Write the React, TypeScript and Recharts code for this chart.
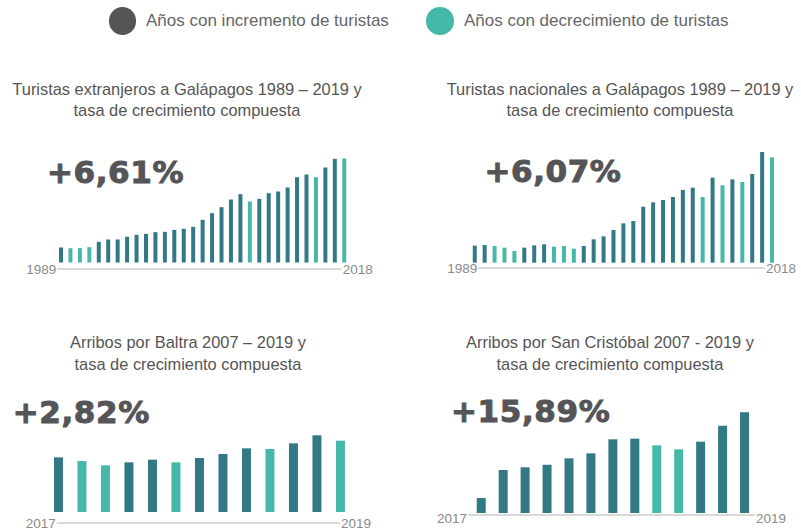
import { Bar, BarChart, Cell, Label, XAxis, YAxis } from "recharts";

// categorias
const yearsLong = [
  "1989", "1990", "1991", "1992", "1993", "1994", "1995", "1996", "1997", "1998",
  "1999", "2000", "2001", "2002", "2003", "2004", "2005", "2006", "2007", "2008",
  "2009", "2010", "2011", "2012", "2013", "2014", "2015", "2016", "2017", "2018", "2019",
];
const yearsShort = [
  "2007", "2008", "2009", "2010", "2011", "2012", "2013", "2014", "2015", "2016", "2017", "2018", "2019",
];

// turistas extranjeros (miles)
const foreignTourists = [
  22.5, 21.5, 21.5, 23, 31, 34.5, 34.5, 38.5, 41.5, 43, 45.5, 46, 49, 50.5, 53.5, 64,
  74, 83, 94.5, 102.5, 91.5, 95.5, 104, 106.5, 112.5, 128, 132, 128, 142.5, 155.5, 156,
];
const foreignTrend = [
  "up", "down", "down", "down", "up", "up", "up", "up", "up", "up", "up", "up", "up", "up", "up", "up",
  "up", "up", "up", "up", "down", "up", "up", "up", "up", "up", "up", "down", "up", "up", "down",
];

// turistas nacionales (miles)
const nationalTourists = [
  12.75, 13.25, 12.5, 11.25, 8.75, 11.25, 13, 13.75, 12, 12.5, 10.5, 12.5, 17.5, 19.75, 24.5, 29.5,
  31.25, 42, 45.25, 47, 49.25, 54.5, 56.25, 49.25, 63.75, 58, 62.5, 60.5, 66.5, 83, 79,
];
const nationalTrend = [
  "up", "up", "down", "down", "down", "up", "up", "up", "down", "down", "down", "up", "up", "up", "up", "up",
  "up", "up", "up", "up", "up", "up", "up", "down", "up", "down", "up", "down", "up", "up", "down",
];

// arribos
const baltraArrivals = [
  16400, 15300, 14000, 14900, 15700, 14900, 16200, 17400, 19100, 18900, 20600, 23000, 21400,
];
const baltraTrend = [
  "up", "down", "down", "up", "up", "down", "up", "up", "up", "down", "up", "up", "down",
];
const sanCristobalArrivals = [
  1125, 3225, 3425, 3625, 4100, 4475, 5525, 5575, 5075, 4775, 5350, 6550, 7550,
];
const sanCristobalTrend = [
  "up", "up", "up", "up", "up", "up", "up", "up", "down", "down", "up", "up", "up",
];

const longRangeLabels = ["1989", "2018"];
const shortRangeLabels = ["2017", "2019"];

const growthRates = ["+6,61%", "+6,07%", "+2,82%", "+15,89%"];
const chartTitles = [
  ["Turistas extranjeros a Galápagos 1989 – 2019 y", "tasa de crecimiento compuesta"],
  ["Turistas nacionales a Galápagos 1989 – 2019 y", "tasa de crecimiento compuesta"],
  ["Arribos por Baltra 2007 – 2019 y", "tasa de crecimiento compuesta"],
  ["Arribos por San Cristóbal 2007 - 2019 y", "tasa de crecimiento compuesta"],
];
const legendLabels = ["Años con incremento de turistas", "Años con decrecimiento de turistas"];

const UP_COLOR = "#327885";
const DOWN_COLOR = "#46b8a8";
const TEXT_FONT = "'Liberation Sans', Arial, sans-serif";

type MiniProps = {
  categories: string[];
  values: number[];
  trend: string[];
  endLabels: string[];
  left: number;
  top: number;
  width: number;
  height: number;
  margin: { top: number; right: number; bottom: number; left: number };
  padding: { left: number; right: number };
  domain: [number, number];
  barSize: number;
  labelDy?: number;
};

const MiniBarChart = (props: MiniProps) => {
  const data = props.categories.map((c, i) => ({ year: c, value: props.values[i] }));
  const dy = props.labelDy ?? 0;
  return (
    <div style={{ position: "absolute", left: props.left, top: props.top }}>
      <BarChart width={props.width} height={props.height} data={data} margin={props.margin}>
        <YAxis hide type="number" domain={props.domain} allowDataOverflow />
        <XAxis
          dataKey="year"
          height={1}
          tick={false}
          tickLine={false}
          axisLine={{ stroke: "#b3b3b3", strokeWidth: 1 }}
          padding={props.padding}
        >
          <Label value={props.endLabels[0]} position="left" offset={1} dy={dy} fill="#8a8a8a" fontSize={13.5} />
          <Label value={props.endLabels[1]} position="right" offset={1} dy={dy} fill="#8a8a8a" fontSize={13.5} />
        </XAxis>
        <Bar dataKey="value" barSize={props.barSize} isAnimationActive={false}>
          {data.map((d, i) => (
            <Cell key={d.year} fill={props.trend[i] === "down" ? DOWN_COLOR : UP_COLOR} />
          ))}
        </Bar>
      </BarChart>
    </div>
  );
};

const Title = ({ lines, centerX, top }: { lines: string[]; centerX: number; top: number }) => (
  <div
    style={{
      position: "absolute",
      left: centerX - 200,
      top,
      width: 400,
      textAlign: "center",
      fontSize: 16.4,
      lineHeight: "21.7px",
      color: "#555",
      whiteSpace: "nowrap",
    }}
  >
    {lines.map((l) => (
      <div key={l}>{l}</div>
    ))}
  </div>
);

const Rate = ({ text, left, top }: { text: string; left: number; top: number }) => (
  <div
    style={{
      position: "absolute",
      left,
      top,
      fontFamily: "'DejaVu Sans', sans-serif",
      fontWeight: 700,
      fontSize: 31,
      lineHeight: "31px",
      letterSpacing: 0.6,
      color: "#555558",
      WebkitTextStroke: "1px #555558",
      whiteSpace: "nowrap",
    }}
  >
    {text}
  </div>
);

export default function App() {
  return (
    <div
      style={{
        position: "absolute",
        left: 0,
        top: 0,
        width: 801,
        height: 531,
        background: "#fff",
        fontFamily: TEXT_FONT,
        overflow: "hidden",
      }}
    >
      {/* leyenda */}
      <div style={{ position: "absolute", left: 108.5, top: 7, width: 27.5, height: 27.5, borderRadius: "50%", background: "#555" }} />
      <div style={{ position: "absolute", left: 146, top: 11.3, fontSize: 17, lineHeight: "20px", color: "#666", whiteSpace: "nowrap" }}>
        {legendLabels[0]}
      </div>
      <div style={{ position: "absolute", left: 426, top: 7, width: 27.5, height: 27.5, borderRadius: "50%", background: DOWN_COLOR }} />
      <div style={{ position: "absolute", left: 464, top: 11.3, fontSize: 17, lineHeight: "20px", color: "#666", whiteSpace: "nowrap" }}>
        {legendLabels[1]}
      </div>

      <MiniBarChart
        categories={yearsLong}
        values={foreignTourists}
        trend={foreignTrend}
        endLabels={longRangeLabels}
        left={0}
        top={140}
        width={400}
        height={140}
        margin={{ top: 10, right: 58.3, bottom: 10, left: 57.3 }}
        padding={{ left: -1.3, right: -7 }}
        domain={[-9.75, 168.75]}
        barSize={4}
      />
      <MiniBarChart
        categories={yearsLong}
        values={nationalTourists}
        trend={nationalTrend}
        endLabels={longRangeLabels}
        left={420}
        top={130}
        width={381}
        height={150}
        margin={{ top: 10, right: 36, bottom: 11, left: 58.3 }}
        padding={{ left: -8.55, right: -11.95 }}
        domain={[-4, 92]}
        barSize={4}
      />
      <MiniBarChart
        categories={yearsShort}
        values={baltraArrivals}
        trend={baltraTrend}
        endLabels={shortRangeLabels}
        left={0}
        top={420}
        width={400}
        height={111}
        margin={{ top: 8, right: 60, bottom: 7, left: 56.7 }}
        padding={{ left: -9.75, right: -12.45 }}
        domain={[-3300, 25200]}
        barSize={9}
      />
      <MiniBarChart
        categories={yearsShort}
        values={sanCristobalArrivals}
        trend={sanCristobalTrend}
        endLabels={shortRangeLabels}
        left={420}
        top={395}
        width={381}
        height={136}
        margin={{ top: 8, right: 46, bottom: 15, left: 48 }}
        padding={{ left: 2.73, right: -0.97 }}
        domain={[-150, 8250]}
        barSize={9}
        labelDy={3}
      />

      <Title lines={chartTitles[0]} centerX={187} top={78.7} />
      <Title lines={chartTitles[1]} centerX={620} top={78.7} />
      <Title lines={chartTitles[2]} centerX={188} top={332} />
      <Title lines={chartTitles[3]} centerX={610} top={332} />

      <Rate text={growthRates[0]} left={47} top={156.5} />
      <Rate text={growthRates[1]} left={484.4} top={155.5} />
      <Rate text={growthRates[2]} left={12.7} top={396.5} />
      <Rate text={growthRates[3]} left={451} top={395.5} />
    </div>
  );
}
